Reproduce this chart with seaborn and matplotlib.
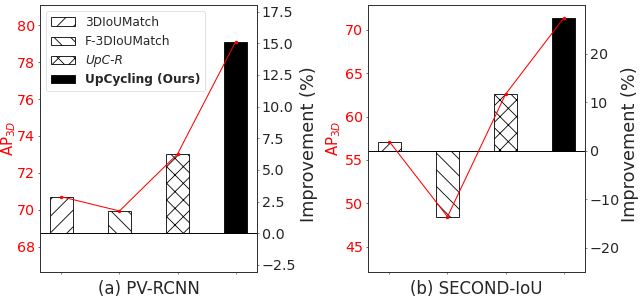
import numpy as np
import seaborn as sns
import matplotlib.pyplot as plt
from matplotlib.ticker import MultipleLocator

sns.set_style('ticks')
plt.rcParams['font.family'] = ['DejaVu Sans']
plt.rcParams['hatch.linewidth'] = 1.2

methods = ['3DIoUMatch', 'F-3DIoUMatch', 'UpC-R', 'UpCycling (Ours)']
hatches = ['/', '\\', 'x', '']
colors = ['white', 'white', 'white', 'black']

# AP_3D values, plus the level of the zero-improvement line
pv_base = 68.72
pv_ap = [70.70, 69.93, 73.02, 79.10]
sec_base = 56.07
sec_ap = [57.11, 48.46, 62.58, 71.35]

panels = [
    dict(title='(a) PV-RCNN', base=pv_base, ap=pv_ap, ap_lim=(66.62, 81.10),
         ap_step=2, imp_step=2.5, legend=True, lab_l=-0.1, lab_r=1.2),
    dict(title='(b) SECOND-IoU', base=sec_base, ap=sec_ap, ap_lim=(42.08, 72.88),
         ap_step=5, imp_step=10, legend=False, lab_l=-0.115, lab_r=1.165),
]

fig = plt.figure(figsize=(12.8, 5.98), dpi=50)
lefts = [40 / 640, 368 / 640]

for left, p in zip(lefts, panels):
    ax = fig.add_axes([left, 27 / 299, 217 / 640, 267 / 299])
    ax2 = ax.twinx()

    imp = [(v / p['base'] - 1) * 100 for v in p['ap']]
    lo, hi = p['ap_lim']
    ax.set_ylim(lo, hi)
    ax2.set_ylim((lo / p['base'] - 1) * 100, (hi / p['base'] - 1) * 100)

    sns.barplot(x=methods, y=imp, hue=methods, palette=colors, saturation=1,
                width=0.4, edgecolor='black', linewidth=1.2, legend=False,
                ax=ax2)
    bars = list(ax2.patches)
    for b, h in zip(bars, hatches):
        b.set_hatch(h)

    ax2.axhline(0, color='black', lw=1.4)
    sns.lineplot(x=np.arange(len(methods)), y=imp, color='red', marker='o',
                 markersize=5, markeredgewidth=0, lw=1.5, ax=ax2)

    ax.set_xlim(-0.37, 3.37)
    ax.set_xticks(range(len(methods)))
    ax.set_xticklabels([])
    ax.set_xlabel(p['title'], fontsize=24, labelpad=4)

    ax.yaxis.set_major_locator(MultipleLocator(p['ap_step']))
    ax.tick_params(axis='y', colors='red', labelsize=20.5)
    ax.tick_params(axis='y', color='black')
    ax.set_ylabel(r'AP$_{3D}$', color='red', fontsize=21.5)
    ax.yaxis.set_label_coords(p['lab_l'], 0.5)

    ax2.yaxis.set_major_locator(MultipleLocator(p['imp_step']))
    ax2.tick_params(axis='y', labelsize=20.5)
    ax2.set_ylabel('Improvement (%)', fontsize=25.5)
    ax2.yaxis.set_label_coords(p['lab_r'], 0.48)

    for a in (ax, ax2):
        for s in a.spines.values():
            s.set_visible(True)
            s.set_color('#333333')
            s.set_linewidth(1.4)

    if p['legend']:
        leg = ax2.legend(handles=bars, labels=methods, loc='upper left',
                         fontsize=17.5)
        leg.get_texts()[2].set_fontstyle('italic')
        leg.get_texts()[3].set_fontweight('bold')

fig.savefig('out.png', dpi=50)
